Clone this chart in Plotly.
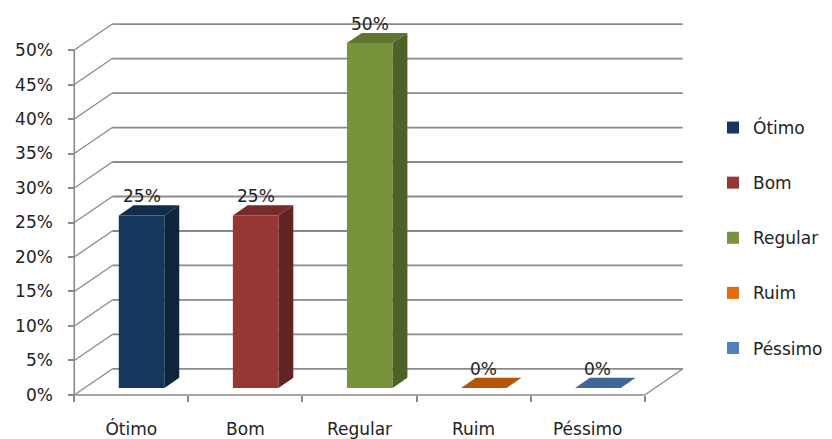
import plotly.graph_objects as go

# ---- data ----
categories = ["Ótimo", "Bom", "Regular", "Ruim", "Péssimo"]
values = [25, 25, 50, 0, 0]
labels = ["25%", "25%", "50%", "0%", "0%"]
front_colors = ["#17375E", "#953735", "#77933C", "#E46C0A", "#4F81BD"]
y_ticks = [0, 5, 10, 15, 20, 25, 30, 35, 40, 45, 50]
y_ticktext = [f"{t}%" for t in y_ticks]

# ---- projection / style constants ----
DX = 0.333      # full depth shift in category units
DY = 3.77       # full depth shift in value units
D0, D1 = 0.27, 0.66   # bar depth span
W = 0.40        # bar width
PXC = 114.2     # px per category
PXV = 6.9       # px per percent
FONT = "DejaVu Sans"
GRID = "#8a8a8a"
TXT = "#222222"

def shade(hexcol, f):
    h = hexcol.lstrip("#")
    r, g, b = (int(h[i:i + 2], 16) for i in (0, 2, 4))
    return "#%02x%02x%02x" % (int(r * f), int(g * f), int(b * f))

n = len(categories)
xs = list(range(n))
x0, x1 = -0.5 - 0.02, n - 0.5 + DX + 0.02
y0, y1 = -0.3, max(y_ticks) + DY + 0.3

fig = go.Figure()

def seg(xa, ya, xb, yb, width):
    fig.add_shape(type="line", xref="x", yref="y", x0=xa, y0=ya, x1=xb, y1=yb,
                  line=dict(color=GRID, width=width), layer="below")

# back wall gridlines and left wall diagonals
for t in y_ticks:
    seg(-0.5 + DX, t + DY, n - 0.5 + DX, t + DY, 1.8)
    seg(-0.5, t, -0.5 + DX, t + DY, 1.3)
# floor front edge, right floor edge, front vertical axis
seg(-0.5, 0, n - 0.5, 0, 1.6)
seg(n - 0.5, 0, n - 0.5 + DX, DY, 1.3)
seg(-0.5, 0, -0.5, max(y_ticks), 1.6)

dd = D1 - D0
for i, (c, v, col, name) in enumerate(zip(xs, values, front_colors, categories)):
    xc = c + D0 * DX
    base = D0 * DY
    xl, xr = xc - W / 2, xc + W / 2
    # front face
    fig.add_trace(go.Bar(x=[xc], y=[v], base=[base], width=W, name=name,
                         marker=dict(color=col, line=dict(width=0)), legendgroup=name))
    # side face
    fig.add_trace(go.Scatter(x=[xr, xr, xr + dd * DX, xr + dd * DX, xr],
                             y=[base, base + v, base + v + dd * DY, base + dd * DY, base],
                             fill="toself", fillcolor=shade(col, 0.66), mode="lines",
                             line=dict(width=0, color=shade(col, 0.66)),
                             showlegend=False, legendgroup=name, hoverinfo="skip"))
    # top face
    fig.add_trace(go.Scatter(x=[xl, xr, xr + dd * DX, xl + dd * DX, xl],
                             y=[base + v, base + v, base + v + dd * DY, base + v + dd * DY, base + v],
                             fill="toself", fillcolor=shade(col, 0.8), mode="lines",
                             line=dict(width=0, color=shade(col, 0.8)),
                             showlegend=False, legendgroup=name, hoverinfo="skip"))
    fig.add_annotation(x=xc, y=v + D1 * DY, text=labels[i], showarrow=False,
                       yanchor="bottom", yshift=-3, font=dict(family=FONT, size=17, color=TXT))

plot_w = (x1 - x0) * PXC
plot_h = (y1 - y0) * PXV
ml = 74 - 0.02 * PXC
mr = 832 - ml - plot_w
mb = 439 - 395 - 0.3 * PXV
mt = 439 - mb - plot_h

fig.update_layout(
    width=832, height=439,
    margin=dict(l=ml, r=mr, t=mt, b=mb, pad=0, autoexpand=False),
    paper_bgcolor="white", plot_bgcolor="white",
    barmode="overlay",
    font=dict(family=FONT, size=17, color=TXT),
    legend=dict(xref="container", yref="container", x=713 / 832, y=1 - 110 / 439,
                xanchor="left", yanchor="top", tracegroupgap=30, maxheight=420,
                font=dict(family=FONT, size=17, color=TXT), bgcolor="rgba(0,0,0,0)"),
    xaxis=dict(range=[x0, x1], anchor="free", position=(0 - y0) / (y1 - y0),
               automargin=False,
               tickmode="array", tickvals=xs, ticktext=categories, ticks="",
               ticklabelstandoff=22, showgrid=False, zeroline=False, showline=False,
               minor=dict(tickmode="linear", tick0=-0.5, dtick=1, ticks="outside",
                          ticklen=6, tickcolor=GRID, tickwidth=1.5, showgrid=False),
               tickfont=dict(family=FONT, size=17, color=TXT)),
    yaxis=dict(range=[y0, y1], anchor="free", position=(-0.5 - x0) / (x1 - x0),
               automargin=False,
               tickmode="array", tickvals=y_ticks, ticktext=y_ticktext,
               ticks="outside", ticklen=6, tickcolor=GRID, tickwidth=1.5,
               ticklabelstandoff=12, showgrid=False, zeroline=False, showline=False,
               tickfont=dict(family=FONT, size=17, color=TXT)),
)

fig.write_html("out.html")
